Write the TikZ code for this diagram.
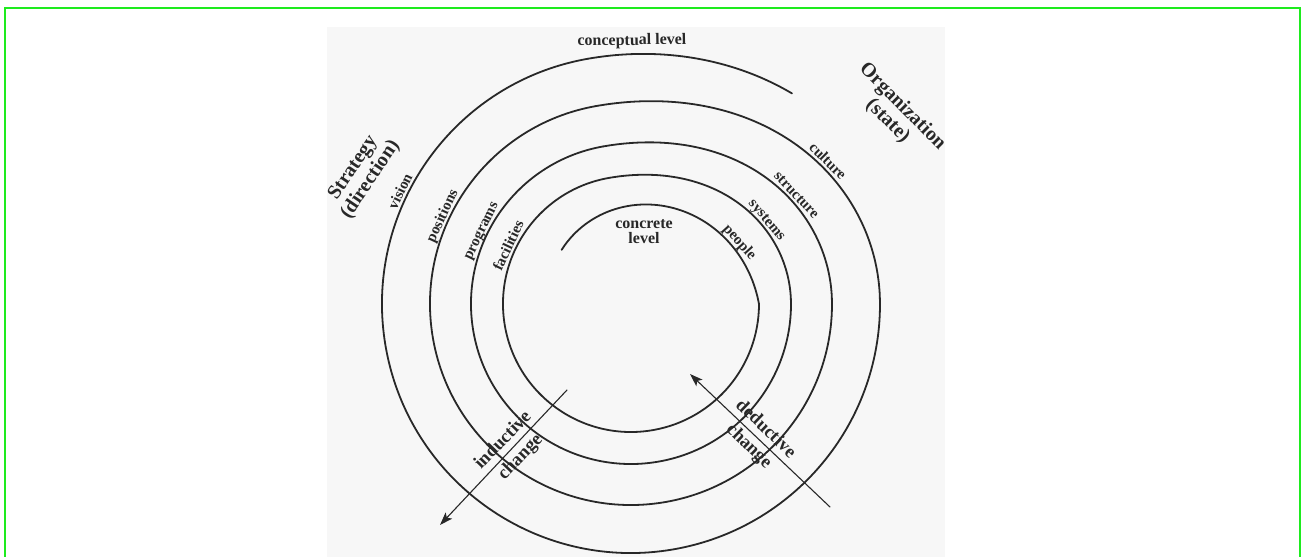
\documentclass[tikz,border=0pt]{standalone}
\usepackage{fontspec}
\setmainfont{Liberation Serif}
\usetikzlibrary{arrows.meta, positioning}
\definecolor{frame}{RGB}{30,235,30}
\definecolor{ink}{RGB}{40,40,40}

\begin{document}
\begin{tikzpicture}[x=1pt, y=1pt, line cap=round,
    ring/.style={line width=1.8pt, ink, samples=40, smooth},
    chg/.style={line width=1.1pt, ink, -{Stealth[length=13pt, width=9pt, inset=3pt]}},
    ringlbl/.style={font=\fontsize{15}{17}\selectfont\bfseries, text=ink, anchor=base, inner sep=0pt},
    title/.style={font=\fontsize{20}{21}\selectfont\bfseries, text=ink, align=center, inner sep=0pt},
    chglbl/.style={font=\fontsize{18.5}{24}\selectfont\bfseries, text=ink, align=center, inner sep=0pt}]
    \useasboundingbox (0,0) rectangle (1302,557);
    \fill[black!3] (327,0) rectangle (945,530);
    \draw[frame, line width=2.5pt, line cap=butt] (5,-10) -- (5,549) -- (1300,549) -- (1300,-10);

    \coordinate (c) at (631,253);
    \begin{scope}[shift={(c)}]
        \draw[ring] plot[domain=52.6:100] (\x:{249+35*(1+cos(1.8*\x))/2});
        \foreach \ra/\rb in {249/201, 201/160, 160/128}
            \draw[ring] (100:\ra) arc[start angle=100, end angle=360, radius=\ra]
                -- plot[domain=0:100] (\x:{\rb+(\ra-\rb)*(1+cos(1.8*\x))/2});
        \draw[ring] (100:128) arc[start angle=100, end angle=360, radius=128]
            -- plot[domain=0:142] (\x:{88+40*(1-\x/142)*(1-0.45*\x/142)});

        \node[ringlbl, rotate=64] (vision) at (154:252) {vision};
        \node[ringlbl, rotate=65] (positions) at (155:204) {positions};
        \node[ringlbl, rotate=64] (programs) at (154:163) {programs};
        \node[ringlbl, rotate=64.5] (facilities) at (154.5:131) {facilities};
        \node[ringlbl, rotate=-45] (culture) at (35.8:238.5) {culture};
        \node[ringlbl, rotate=-47] (structure) at (33.2:194) {structure};
        \node[ringlbl, rotate=-50] (systems) at (31.5:156) {systems};
        \node[ringlbl, rotate=-48] (people) at (29.2:121) {people};
    \end{scope}

    \node[ringlbl, rotate=1, font=\fontsize{16}{17}\selectfont\bfseries] (concept) at (632,512) {conceptual level};
    \node[ringlbl, anchor=center, align=center, font=\fontsize{16}{15}\selectfont\bfseries] (concrete) at (644,325) {concrete\\level};
    \node[title, rotate=-45] (organization) at (895,443) {Organization\\(state)};
    \node[title, rotate=56] (strategy) at (362,383) {Strategy\\(direction)};

    \coordinate (indtail) at (567,167);
    \coordinate (indtip) at (440,32);
    \coordinate (dedtail) at (830,50);
    \coordinate (dedtip) at (690,183);
    \draw[chg] (indtail) -- (indtip);
    \draw[chg] (dedtail) -- (dedtip);
    \node[chglbl, rotate=46] (inductive) at (512,108) {inductive\\change};
    \node[chglbl, rotate=-44] (deductive) at (757,119) {deductive\\change};
\end{tikzpicture}
\end{document}
